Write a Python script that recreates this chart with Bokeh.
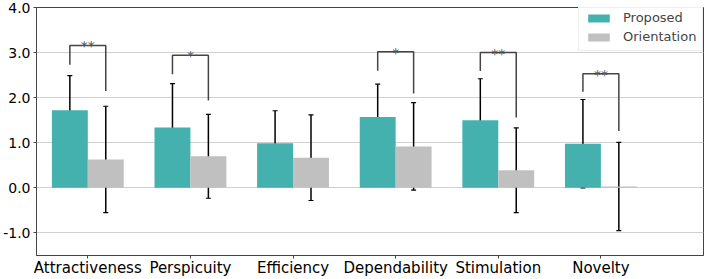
import numpy as np
from bokeh.plotting import figure
from bokeh.models import (ColumnDataSource, Range1d, FixedTicker, PrintfTickFormatter,
                          Whisker, TeeHead, Legend)
from bokeh.core.properties import value
from bokeh.embed import file_html
from bokeh.resources import INLINE

categories = ["Attractiveness", "Perspicuity", "Efficiency", "Dependability", "Stimulation", "Novelty"]
proposed_mean = [1.72, 1.34, 0.99, 1.57, 1.50, 0.98]
proposed_sd = [0.77, 0.97, 0.72, 0.73, 0.92, 0.98]
orientation_mean = [0.63, 0.70, 0.67, 0.92, 0.39, 0.03]
orientation_sd = [1.18, 0.93, 0.95, 0.97, 0.94, 0.98]

sig_index = [0, 1, 3, 4, 5]
sig_label = ["**", "*", "*", "**", "**"]
bracket_top = [3.16, 2.94, 3.02, 3.00, 2.53]
bracket_left_end = [2.73, 2.52, 2.60, 2.59, 2.13]
bracket_right_end = [2.15, 1.94, 2.09, 1.56, 1.26]

y_ticks = [-1.0, 0.0, 1.0, 2.0, 3.0, 4.0]

TEAL = "#45b1af"
GREY = "#c0c0c0"
FONT = "DejaVu Sans"
BW = 0.35

idx = np.arange(len(categories), dtype=float)
pm = np.array(proposed_mean); ps = np.array(proposed_sd)
om = np.array(orientation_mean); osd = np.array(orientation_sd)

src_p = ColumnDataSource(dict(x=idx - BW / 2, top=pm, upper=pm + ps, lower=pm - ps))
src_o = ColumnDataSource(dict(x=idx + BW / 2, top=om, upper=om + osd, lower=om - osd))

p = figure(width=706, height=279, output_backend="svg", toolbar_location=None,
           x_range=Range1d(-0.5, 6.0), y_range=Range1d(-1.5, 4.0),
           min_border_left=35, min_border_right=3, min_border_top=7, min_border_bottom=20)

p.background_fill_color = "white"
p.border_fill_color = "white"
p.outline_line_color = "#444444"
p.outline_line_width = 1

r1 = p.vbar(x="x", top="top", bottom=0, width=BW, source=src_p, fill_color=TEAL,
            line_color=None)
r2 = p.vbar(x="x", top="top", bottom=0, width=BW, source=src_o, fill_color=GREY,
            line_color=None)

for src in (src_p, src_o):
    w = Whisker(source=src, base="x", upper="upper", lower="lower",
                line_color="black", line_width=1.5,
                upper_head=TeeHead(size=5, line_color="black", line_width=1.2),
                lower_head=TeeHead(size=5, line_color="black", line_width=1.2))
    p.add_layout(w)

# significance brackets
si = np.array(sig_index, dtype=float)
xl = si - BW / 2
xr = si + BW / 2
xs = [[a, a, b, b] for a, b in zip(xl, xr)]
ys = [[le, t, t, re] for le, t, re in zip(bracket_left_end, bracket_top, bracket_right_end)]
p.multi_line(xs=xs, ys=ys, line_color="#444444", line_width=1.5)
p.text(x=si, y=bracket_top, text=sig_label, text_align="center",
       text_baseline="alphabetic", text_font=value(FONT), text_font_size="14px",
       text_color="#555555", y_offset=1)

# axes
p.xaxis.ticker = FixedTicker(ticks=list(idx))
p.xaxis.major_label_overrides = {float(i): c for i, c in enumerate(categories)}
p.xaxis.major_label_overrides.update({int(i): c for i, c in enumerate(categories)})
p.yaxis.ticker = FixedTicker(ticks=y_ticks)
p.yaxis.formatter = PrintfTickFormatter(format="%.1f")
for ax in (p.xaxis, p.yaxis):
    ax.axis_line_color = "#444444"
    ax.axis_line_width = 1
    ax.major_tick_line_color = "#444444"
    ax.major_tick_out = 3
    ax.major_tick_in = 0
    ax.minor_tick_out = 0
    ax.minor_tick_in = 0
    ax.major_label_text_font = FONT
    ax.major_label_text_color = "black"
p.xaxis.major_label_standoff = 0
p.yaxis.major_label_standoff = 3
p.xaxis.major_label_text_font_size = "15px"
p.yaxis.major_label_text_font_size = "14px"

p.xgrid.visible = False
p.ygrid.ticker = FixedTicker(ticks=y_ticks)
p.ygrid.grid_line_color = "#d0d0d0"
p.ygrid.grid_line_width = 1

legend = Legend(items=[("Proposed", [r1]), ("Orientation", [r2])], location=(542, 204))
legend.margin = 0
legend.padding = 6
legend.spacing = 4
legend.glyph_width = 27
legend.glyph_height = 10
legend.label_standoff = 11
legend.label_text_font = FONT
legend.label_text_font_size = "13px"
legend.border_line_color = "#dddddd"
legend.background_fill_alpha = 0.92
p.add_layout(legend)

open("out.html", "w").write(file_html(p, INLINE))
